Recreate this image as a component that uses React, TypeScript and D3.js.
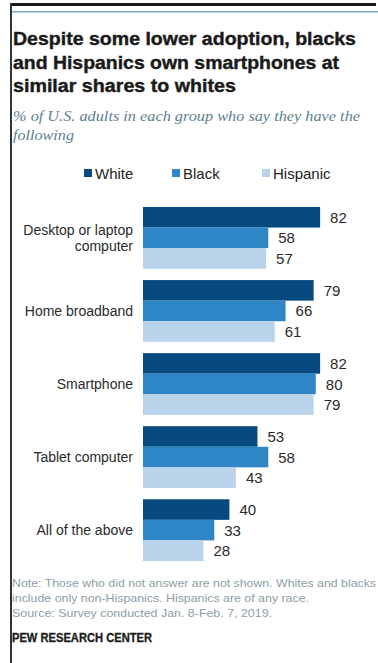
import React from "react";
import * as d3 from "d3";

const categories = ["Desktop or laptop computer", "Home broadband", "Smartphone", "Tablet computer", "All of the above"];
const categoryLines = [["Desktop or laptop", "computer"], ["Home broadband"], ["Smartphone"], ["Tablet computer"], ["All of the above"]];
const seriesNames = ["White", "Black", "Hispanic"];
const whiteValues = [82, 79, 82, 53, 40];
const blackValues = [58, 66, 80, 58, 33];
const hispanicValues = [57, 61, 79, 43, 28];
const seriesColors = ["#074a80", "#2f86c6", "#b9d4ea"];
const titleLines = [
  "Despite some lower adoption, blacks",
  "and Hispanics own smartphones at",
  "similar shares to whites",
];
const subtitleLines = ["% of U.S. adults in each group who say they have the", "following"];
const noteLines = [
  "Note: Those who did not answer are not shown. Whites and blacks",
  "include only non-Hispanics. Hispanics are of any race.",
  "Source: Survey conducted Jan. 8-Feb. 7, 2019.",
];

export default function App() {
  const W = 378, H = 663;
  const values = [whiteValues, blackValues, hispanicValues];
  const y0 = d3.scaleBand<string>().domain(categories).range([207, 561]).paddingInner(0.155).paddingOuter(0);
  const y1 = d3.scaleBand<string>().domain(seriesNames).range([0, y0.bandwidth()]).padding(0);
  const x = d3.scaleLinear().domain([0, 100]).range([143, 359]);
  const sans = "'Liberation Sans', Arial, sans-serif";
  const legendX = [84, 172, 262];

  return (
    <svg width={W} height={H} style={{ position: "absolute", left: 0, top: 0 }} fontFamily={sans}>
      <rect x={0} y={0} width={W} height={H} fill="#ffffff" />
      <rect x={10} y={3} width={366} height={3} fill="#1a1a1a" />
      <rect x={10} y={3} width={2} height={H - 3} fill="#2a3540" />
      <rect x={12} y={11} width={366} height={1.5} fill="#7fa9bd" />

      {titleLines.map((t, i) => (
        <text key={t} x={13} y={45 + i * 23.5} fontSize={18} fontWeight="bold" fill="#1a1a1a"
          stroke="#1a1a1a" strokeWidth={0.4}
          textLength={i === 0 ? 343 : i === 1 ? 326 : 223} lengthAdjust="spacingAndGlyphs">{t}</text>
      ))}
      {subtitleLines.map((t, i) => (
        <text key={t} x={13} y={121 + i * 19} fontSize={14} fontStyle="italic"
          fontFamily="'Liberation Serif', 'DejaVu Serif', serif" fill="#5d7f8f"
          textLength={i === 0 ? 347 : 61} lengthAdjust="spacingAndGlyphs">{t}</text>
      ))}

      {seriesNames.map((s, i) => (
        <g key={s}>
          <rect x={legendX[i]} y={169} width={8} height={8} fill={seriesColors[i]} />
          <text x={legendX[i] + 11} y={178.5} fontSize={15} fill="#222">{s}</text>
        </g>
      ))}

      {categories.map((c, ci) => {
        const gy = y0(c)!;
        const mid = gy + y0.bandwidth() / 2;
        const lines = categoryLines[ci];
        return (
          <g key={c}>
            {lines.map((l, li) => (
              <text key={l} x={133} y={mid + 5 + (li - (lines.length - 1) / 2) * 16} textAnchor="end" fontSize={14} fill="#2a2a2a">{l}</text>
            ))}
            {seriesNames.map((s, si) => {
              const v = values[si][ci];
              const by = gy + y1(s)!;
              return (
                <g key={s}>
                  <rect x={x(0)} y={by} width={x(v) - x(0)} height={y1.bandwidth()} fill={seriesColors[si]} />
                  <text x={x(v) + 10} y={by + y1.bandwidth() / 2 + 5.5} fontSize={15} fill="#2a2a2a">{v}</text>
                </g>
              );
            })}
          </g>
        );
      })}

      {noteLines.map((t, i) => (
        <text key={t} x={12} y={587 + i * 15} fontSize={11} fill="#8c9ea8"
          textLength={i === 0 ? 364 : i === 1 ? 297 : 260} lengthAdjust="spacingAndGlyphs">{t}</text>
      ))}
      <text x={12} y={642} fontSize={12} fontWeight="bold" fill="#1a1a1a" stroke="#1a1a1a" strokeWidth={0.3}
        textLength={140} lengthAdjust="spacingAndGlyphs">PEW RESEARCH CENTER</text>
    </svg>
  );
}
